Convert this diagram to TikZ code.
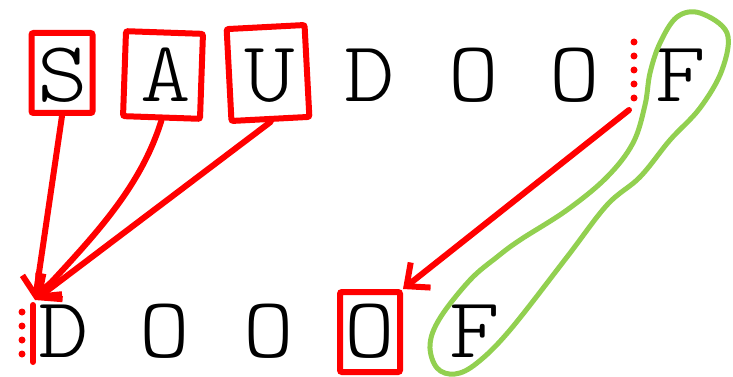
\documentclass[tikz,border=0pt]{standalone}
\usepackage{fontspec}
\usepackage{graphicx}
\newfontfamily\lettfont{Latin Modern Mono Light}
\newcommand\wideglyph[1]{\scalebox{1.12}[1]{#1}}
\usetikzlibrary{arrows.meta}

\definecolor{pen}{RGB}{255,0,0}
\definecolor{lime}{RGB}{146,208,80}

\begin{document}
\begin{tikzpicture}[
    x=1pt, y=-1pt,
    letter/.style={font=\lettfont\fontsize{86}{86}\selectfont, anchor=base, inner sep=0pt},
    hilite/.style={draw=pen, line width=6pt, rounded corners=2pt, inner sep=0pt},
    link/.style={draw=pen, line width=6pt, line cap=round, line join=round, -{Straight Barb[length=18pt, width=32pt]}},
    gap/.style={draw=pen, line width=7pt, line cap=round, dash pattern=on 0pt off 14pt},
    lasso/.style={draw=lime, line width=5pt}
]
    \useasboundingbox (0,0) rectangle (733,377);

    % text row
    \node[letter] (t1) at (63,102) {\wideglyph{S}};
    \node[letter] (t2) at (166,102) {\wideglyph{A}};
    \node[letter] (t3) at (270,102) {\wideglyph{U}};
    \node[letter] (t4) at (370,102) {\wideglyph{D}};
    \node[letter] (t5) at (474,102) {\wideglyph{O}};
    \node[letter] (t6) at (575,102) {\wideglyph{O}};
    \node[letter] (t7) at (681,102) {\wideglyph{F}};

    % pattern row
    \node[letter] (b1) at (64,357) {\wideglyph{D}};
    \node[letter] (b2) at (165,357) {\wideglyph{O}};
    \node[letter] (b3) at (269,357) {\wideglyph{O}};
    \node[letter] (b4) at (370,357) {\wideglyph{O}};
    \node[letter] (b5) at (475,357) {\wideglyph{F}};

    % highlighted letters
    \node[hilite, minimum width=61pt, minimum height=80pt] (sbox) at (62,73) {};
    \node[hilite, minimum width=77pt, minimum height=85pt, rotate=-2] (abox) at (163,75) {};
    \node[hilite, minimum width=78pt, minimum height=92pt, rotate=3] (ubox) at (268,73) {};
    \node[hilite, minimum width=60pt, minimum height=80pt] (obox) at (370,332) {};

    % shift points
    \coordinate (ins) at (35,300);
    \coordinate (cut) at (629,110);

    \draw[gap] (634,42) -- (634,100);
    \draw[gap] (22,312) -- (22,366);
    \draw[draw=pen, line width=6pt, line cap=round] (33,305) -- (33,362);

    \draw[link] (sbox.south) -- (ins);
    \draw[link] (abox.south) .. controls (140,190) and (90,240) .. (ins);
    \draw[link] (ubox.south) -- (ins);
    \draw[link] (cut) -- (obox.north east);

    % matched suffix
    \draw[lasso] plot[smooth cycle, tension=0.6] coordinates {
        (700,13) (727,33) (722,70) (700,108) (670,140) (640,177) (607,205)
        (567,257) (510,330) (477,363) (455,374) (437,368) (430,345) (440,318)
        (470,280) (497,257) (520,240) (567,210) (607,177) (633,143) (645,105)
        (650,73) (660,43) (677,17)};
\end{tikzpicture}
\end{document}
